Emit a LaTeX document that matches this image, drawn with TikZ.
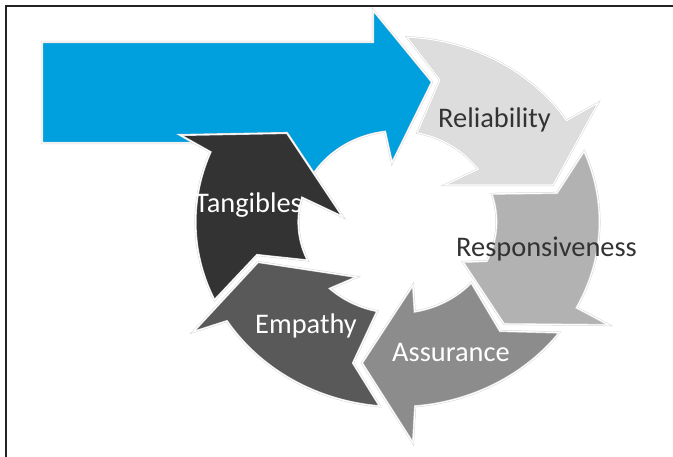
\documentclass[tikz,border=0pt]{standalone}
\usepackage{fontspec}
\setmainfont{Carlito}
\definecolor{cblue}{RGB}{0,160,222}
\definecolor{crel}{RGB}{221,221,221}
\definecolor{cres}{RGB}{178,178,178}
\definecolor{cass}{RGB}{140,140,140}
\definecolor{cemp}{RGB}{89,89,89}
\definecolor{ctan}{RGB}{51,51,51}
\definecolor{ctxt}{RGB}{51,51,51}
\definecolor{cframe}{RGB}{35,35,35}
\begin{document}
\begin{tikzpicture}[x=1pt,y=-1pt,
  seg/.style={draw=black!16, line width=0.5pt, double=white, double distance=1.1pt, line join=miter},
  lbl/.style={inner sep=0pt, anchor=base, font=\fontsize{28.4}{34}\selectfont},
  frameline/.style={draw=cframe, line width=2pt}]
\useasboundingbox (0,0) rectangle (673,457);
\coordinate (fb) at (6.2,457);
\coordinate (fc) at (6.2,6.2);
\coordinate (fr) at (673,6.2);
\draw[frameline] (fb) -- (fc) -- (fr);
% blue arrow
\path[seg, fill=cblue] (42,42) -- (373,42) -- (373,10) -- (432,82) -- (392,163)
  -- plot[domain=-97.2:-150, samples=30] ({397.5+99*cos(\x)},{222+91*sin(\x)})
  -- (290,143) -- (42,143) -- cycle;
% Reliability
\path[seg, fill=crel] plot[domain=-87.3:-33.2, samples=40] ({397.5+202*cos(\x)},{222+185*sin(\x)})
  -- (598,103) -- (553,185) -- (445,185)
  -- plot[domain=-35.4:-78.5, samples=30] ({397.5+99*cos(\x)},{222+91*sin(\x)})
  -- (440,80) -- cycle;
% Responsiveness
\path[seg, fill=cres] plot[domain=-22.5:27.6, samples=40] ({397.5+202*cos(\x)},{222+185*sin(\x)})
  -- (609,325) -- (504,324) -- (463,262)
  -- plot[domain=25.5:-18, samples=30] ({397.5+99*cos(\x)},{222+91*sin(\x)})
  -- (557,193) -- cycle;
% Assurance
\path[seg, fill=cass] plot[domain=36.7:85, samples=40] ({397.5+202*cos(\x)},{222+185*sin(\x)})
  -- (413,443) -- (362,363) -- (413,285)
  -- plot[domain=80:41.8, samples=30] ({397.5+99*cos(\x)},{222+91*sin(\x)})
  -- (500,331) -- cycle;
% Empathy
\path[seg, fill=cemp] plot[domain=95:147.6, samples=40] ({397.5+202*cos(\x)},{222+185*sin(\x)})
  -- (193,332) -- (258,262) -- (357,277)
  -- plot[domain=133:101.8, samples=30] ({397.5+99*cos(\x)},{222+91*sin(\x)})
  -- (353,363) -- cycle;
% Tangibles
\path[seg, fill=ctan] plot[domain=155:202.2, samples=40] ({397.5+202*cos(\x)},{222+185*sin(\x)})
  -- (180,135) -- (287,133) -- (343,217)
  -- plot[domain=195.5:155, samples=30] ({397.5+99*cos(\x)},{222+91*sin(\x)})
  -- (257,255) -- cycle;
% labels
\node[lbl, text=ctxt] (rel) at (494.5,128) {Reliability};
\node[lbl, text=ctxt] (res) at (546.5,257) {Responsiveness};
\node[lbl, text=white] (ass) at (451,362) {Assurance};
\node[lbl, text=white] (emp) at (306,334) {Empathy};
\node[lbl, text=white] (tan) at (248.5,213) {Tangibles};
\end{tikzpicture}
\end{document}
